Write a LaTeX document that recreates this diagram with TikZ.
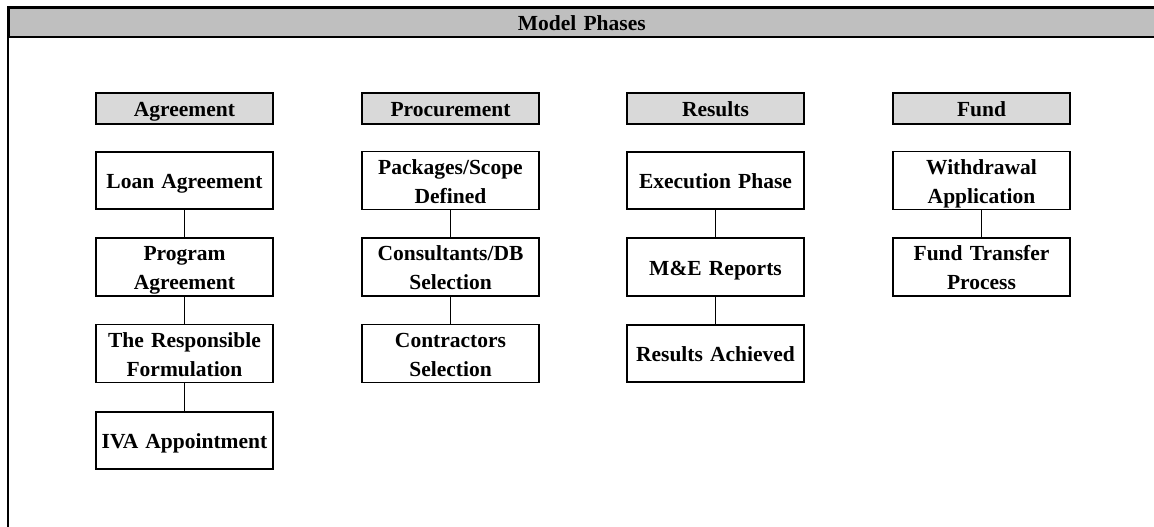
\documentclass[tikz,border=0pt]{standalone}
\usepackage{fontspec}
\setmainfont[WordSpace=0.75]{Liberation Serif}
% strut that keeps the cap height centred on each line
\newcommand\linestrut{\rule[-6.3pt]{0pt}{29pt}}
\begin{document}
\begin{tikzpicture}[x=1pt,y=-1pt,
  txt/.style={font=\fontsize{21.5}{29}\selectfont\bfseries, align=center, text width=176pt, inner sep=0pt,
    execute at begin node={\linestrut}, execute at end node={\linestrut}},
  stepbox/.style={txt, draw=black, line width=1.9pt, fill=white, minimum width=177pt, minimum height=57.5pt},
  phasehead/.style={txt, draw=black, line width=1.9pt, fill=gray!30, minimum width=177pt, minimum height=30.5pt},
  link/.style={draw=black, line width=1.6pt}]
\useasboundingbox (0,0) rectangle (1154,527);
\begin{scope}
\clip (0,0) rectangle (1154,527);
% outer frame and title bar
\draw[line width=1.2pt] (8,7) rectangle (1170,560);
\node[txt, draw=black, line width=1.6pt, fill=black!25, minimum width=1162pt, minimum height=29pt, text width=1150pt, anchor=north west] (title) at (8,7) {\hspace*{-16pt}Model Phases};
\end{scope}

% phase headers
\node[phasehead] (hA) at (184.5,108.5) {Agreement};
\node[phasehead] (hP) at (450.5,108.5) {Procurement};
\node[phasehead] (hR) at (715.5,108.5) {Results};
\node[phasehead] (hF) at (981.5,108.5) {Fund};

% agreement column
\node[stepbox] (a1) at (184.5,180.5) {Loan Agreement};
\node[stepbox] (a2) at (184.5,267) {Program\\Agreement};
\node[stepbox] (a3) at (184.5,353.5) {The Responsible\\Formulation};
\node[stepbox] (a4) at (184.5,440.5) {IVA Appointment};

% procurement column
\node[stepbox] (p1) at (450.5,180.5) {Packages/Scope\\Defined};
\node[stepbox] (p2) at (450.5,267) {Consultants/DB\\Selection};
\node[stepbox] (p3) at (450.5,353.5) {Contractors\\Selection};

% results column
\node[stepbox] (r1) at (715.5,180.5) {Execution Phase};
\node[stepbox] (r2) at (715.5,267) {M\&E Reports};
\node[stepbox] (r3) at (715.5,353.5) {Results Achieved};

% fund column
\node[stepbox] (f1) at (981.5,180.5) {Withdrawal\\Application};
\node[stepbox] (f2) at (981.5,267) {Fund Transfer\\Process};

% connectors
\draw[link] (a1) -- (a2);
\draw[link] (a2) -- (a3);
\draw[link] (a3) -- (a4);
\draw[link] (p1) -- (p2);
\draw[link] (p2) -- (p3);
\draw[link] (r1) -- (r2);
\draw[link] (r2) -- (r3);
\draw[link] (f1) -- (f2);
\end{tikzpicture}
\end{document}
